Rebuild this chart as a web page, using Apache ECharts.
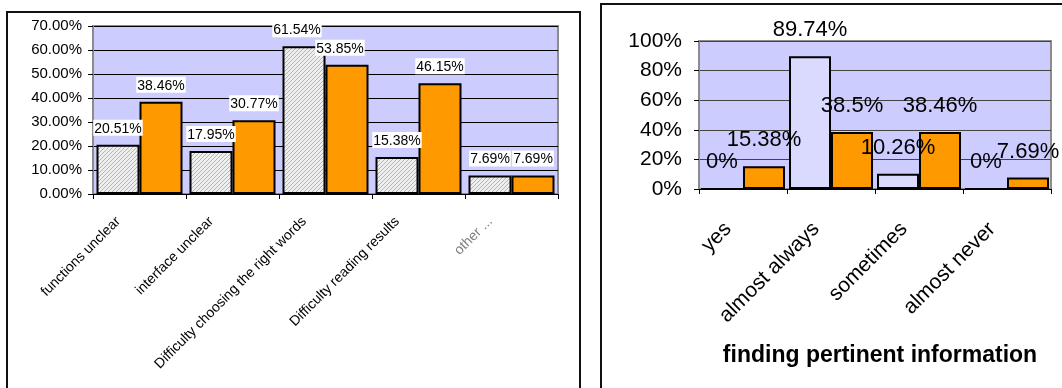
<!DOCTYPE html>
<html>
<head>
<meta charset="utf-8">
<script src="https://cdn.jsdelivr.net/npm/echarts@6/dist/echarts.min.js"></script>
<style>
html,body{margin:0;padding:0;background:#fff;}
#c{width:1062px;height:388px;}
</style>
</head>
<body>
<div id="c"></div>
<script>
// ---- data: left chart ----
const leftCategories = ['functions unclear', 'interface unclear', 'Difficulty choosing the right words', 'Difficulty reading results', 'other ...'];
const leftSeriesA = [20.51, 17.95, 61.54, 15.38, 7.69];
const leftSeriesB = [38.46, 30.77, 53.85, 46.15, 7.69];
const leftTicks = [0, 10, 20, 30, 40, 50, 60, 70];
// ---- data: right chart ----
const rightCategories = ['yes', 'almost always', 'sometimes', 'almost never'];
const rightSeriesA = [0, 89.74, 10.26, 0];
const rightSeriesB = [15.38, 38.5, 38.46, 7.69];
const rightTicks = [0, 20, 40, 60, 80, 100];
const rightTitle = 'finding pertinent information';

// label nudges (style only): index -> [dx, dy]
const leftLabelNudge = {2: [-7, 0]};

// hatch pattern
const pc = document.createElement('canvas');
pc.width = 4; pc.height = 4;
const g = pc.getContext('2d');
g.fillStyle = '#EEEEEE'; g.fillRect(0, 0, 4, 4);
g.strokeStyle = '#B4B4B4'; g.lineWidth = 1;
g.beginPath(); g.moveTo(0, 4); g.lineTo(4, 0); g.stroke();
g.beginPath(); g.moveTo(-1, 1); g.lineTo(1, -1); g.stroke();
g.beginPath(); g.moveTo(3, 5); g.lineTo(5, 3); g.stroke();

const FONT = 'Liberation Sans, Arial, sans-serif';
const chart = echarts.init(document.getElementById('c'), null, {renderer: 'canvas'});

const leftCatData = leftCategories.map((c, i) => i === leftCategories.length - 1 ? {value: c, textStyle: {color: '#808080'}} : c);
const nudge = arr => arr.map((v, i) => leftLabelNudge[i] ? {value: v, label: {offset: leftLabelNudge[i]}} : v);

const leftLabel = {show: true, position: 'top', distance: 9, formatter: p => p.value + '%', fontSize: 14, fontFamily: FONT, color: '#000', backgroundColor: '#fff', padding: [2, 1, 0, 1]};
const rightLabel = {show: true, position: 'top', distance: 15, formatter: p => p.value + '%', fontSize: 22, fontFamily: FONT, color: '#000'};

const option = {
  animation: false,
  title: {
    text: rightTitle, left: 875, top: 339, textAlign: 'center',
    textStyle: {fontFamily: FONT, fontSize: 23, fontWeight: 'bold', color: '#000'}
  },
  graphic: [
    {type: 'rect', shape: {x: 7, y: 12, width: 573, height: 420}, style: {fill: 'none', stroke: '#111', lineWidth: 2}},
    {type: 'rect', shape: {x: 601, y: 4, width: 520, height: 420}, style: {fill: 'none', stroke: '#111', lineWidth: 2}}
  ],
  grid: [
    {left: 93, top: 26, width: 465, height: 168, show: true, backgroundColor: '#CCCCFF', borderColor: '#8C8C8C', borderWidth: 2},
    {left: 699, top: 41, width: 352, height: 148, show: true, backgroundColor: '#CCCCFF', borderColor: '#8C8C8C', borderWidth: 2}
  ],
  xAxis: [
    {type: 'category', gridIndex: 0, data: leftCatData,
     axisLine: {lineStyle: {color: '#000', width: 1}},
     axisTick: {show: true, interval: 0, length: 5, lineStyle: {color: '#000'}},
     axisLabel: {interval: 0, rotate: 45, fontSize: 14, fontFamily: FONT, color: '#000', margin: 4, padding: [0, 30, 0, 0]}},
    {type: 'category', gridIndex: 1, data: rightCategories,
     axisLine: {lineStyle: {color: '#000', width: 1}},
     axisTick: {show: true, interval: 0, length: 5, lineStyle: {color: '#000'}},
     axisLabel: {interval: 0, rotate: 45, fontSize: 21, fontFamily: FONT, color: '#000', margin: 22, padding: [0, 21, 0, 0]}}
  ],
  yAxis: [
    {type: 'value', gridIndex: 0, min: leftTicks[0], max: leftTicks[leftTicks.length - 1], interval: leftTicks[1] - leftTicks[0],
     axisLine: {show: true, lineStyle: {color: '#8C8C8C', width: 2}},
     axisTick: {show: true, length: 5, lineStyle: {color: '#000'}},
     splitLine: {show: true, lineStyle: {color: '#000', width: 1}},
     axisLabel: {formatter: v => v.toFixed(2) + '%', fontSize: 15, fontFamily: FONT, color: '#000', margin: 11}},
    {type: 'value', gridIndex: 1, min: rightTicks[0], max: rightTicks[rightTicks.length - 1], interval: rightTicks[1] - rightTicks[0],
     axisLine: {show: true, lineStyle: {color: '#8C8C8C', width: 2}},
     axisTick: {show: true, length: 5, lineStyle: {color: '#000'}},
     splitLine: {show: true, lineStyle: {color: '#444', width: 1}},
     axisLabel: {formatter: v => v + '%', fontSize: 21, fontFamily: FONT, color: '#000', margin: 17}}
  ],
  series: [
    {type: 'bar', xAxisIndex: 0, yAxisIndex: 0, data: nudge(leftSeriesA), barWidth: 43, barGap: '0%',
     itemStyle: {color: {image: pc, repeat: 'repeat'}, borderColor: '#000', borderWidth: 2},
     label: leftLabel},
    {type: 'bar', xAxisIndex: 0, yAxisIndex: 0, data: nudge(leftSeriesB), barWidth: 43, barGap: '0%',
     itemStyle: {color: '#FF9900', borderColor: '#000', borderWidth: 2},
     label: leftLabel},
    {type: 'bar', xAxisIndex: 1, yAxisIndex: 1, data: rightSeriesA, barWidth: 42, barGap: '0%',
     itemStyle: {color: '#DADAFF', borderColor: '#000', borderWidth: 2},
     label: rightLabel},
    {type: 'bar', xAxisIndex: 1, yAxisIndex: 1, data: rightSeriesB, barWidth: 42, barGap: '0%',
     itemStyle: {color: '#FF9900', borderColor: '#000', borderWidth: 2},
     label: rightLabel}
  ]
};
chart.setOption(option);
</script>
</body>
</html>
